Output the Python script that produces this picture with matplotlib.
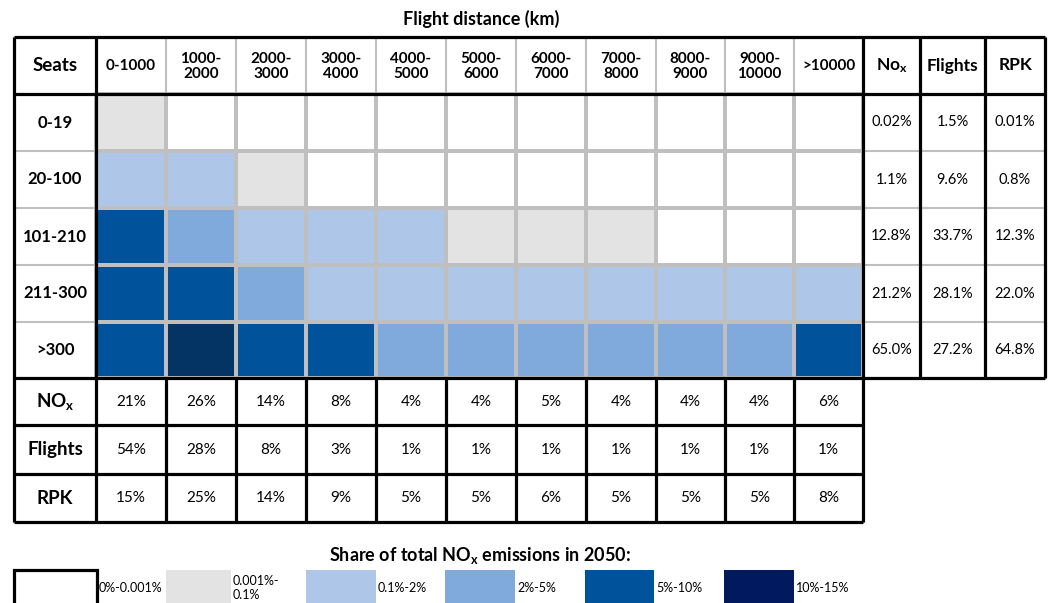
import numpy as np
import matplotlib
matplotlib.use('Agg')
import matplotlib.pyplot as plt
from matplotlib.colors import ListedColormap
from matplotlib.patches import Rectangle

plt.rcParams['font.family'] = ['Lato', 'DejaVu Sans']
plt.rcParams['mathtext.fontset'] = 'custom'
plt.rcParams['mathtext.rm'] = 'Lato'
plt.rcParams['mathtext.bf'] = 'Lato:bold'

# Data
distance_bins = ['0-1000', '1000-\n2000', '2000-\n3000', '3000-\n4000', '4000-\n5000', '5000-\n6000',
                 '6000-\n7000', '7000-\n8000', '8000-\n9000', '9000-\n10000', '>10000']
seat_bins = ['0-19', '20-100', '101-210', '211-300', '>300']
# NOx share class per cell: 0 <0.001%, 1 <0.1%, 2 <2%, 3 <5%, 4 <10%, 5 <15%
nox_class = np.array([
    [1, 0, 0, 0, 0, 0, 0, 0, 0, 0, 0],
    [2, 2, 1, 0, 0, 0, 0, 0, 0, 0, 0],
    [4, 3, 2, 2, 2, 1, 1, 1, 0, 0, 0],
    [4, 4, 3, 2, 2, 2, 2, 2, 2, 2, 2],
    [4, 5, 4, 4, 3, 3, 3, 3, 3, 3, 4],
])
row_nox = ['0.02%', '1.1%', '12.8%', '21.2%', '65.0%']
row_flights = ['1.5%', '9.6%', '33.7%', '28.1%', '27.2%']
row_rpk = ['0.01%', '0.8%', '12.3%', '22.0%', '64.8%']
col_nox = [21, 26, 14, 8, 4, 4, 5, 4, 4, 4, 6]
col_flights = [54, 28, 8, 3, 1, 1, 1, 1, 1, 1, 1]
col_rpk = [15, 25, 14, 9, 5, 5, 6, 5, 5, 5, 8]
legend_labels = ['0%-0.001%', '0.001%-\n0.1%', '0.1%-2%', '2%-5%', '5%-10%', '10%-15%']

cell_colors = ['#FFFFFF', '#E3E3E3', '#AEC6E7', '#7FAADB', '#00529B', '#033463']
legend_colors = ['#FFFFFF', '#E3E3E3', '#AEC6E7', '#7FAADB', '#00529B', '#011A5F']

# Layout (pixels)
x_left, x_seat = 14, 96
x_dist = np.array([96, 166, 236, 306, 376, 446, 516, 586, 656, 725, 794, 863])
x_right = np.array([863, 920, 985, 1045])
y_top, y_head = 37, 94
y_rows = np.array([94, 151, 208, 265, 322, 378])
y_bottom = np.array([378, 425, 474, 522])
gray = '#BFBFBF'
lw_b, lw_g = 2.3, 1.5

fig = plt.figure(figsize=(10.51, 6.03), dpi=100)
ax = fig.add_axes([0, 0, 1, 1])
ax.set_xlim(0, 1051)
ax.set_ylim(603, 0)
ax.axis('off')

# heatmap cells
ax.pcolormesh(x_dist, y_rows, nox_class, cmap=ListedColormap(cell_colors), vmin=-0.5, vmax=5.5,
              edgecolors=gray, linewidth=lw_g)

# gray lines
ax.vlines(x_dist[1:-1], y_top, y_head, color=gray, lw=lw_g)
ax.hlines(y_rows[1:-1], x_left, x_seat, color=gray, lw=lw_g)
ax.hlines(y_rows[1:-1], x_right[0], x_right[-1], color=gray, lw=lw_g)

# black lines
ax.hlines([y_top, y_head, y_rows[-1]], x_left, x_right[-1], color='black', lw=lw_b)
ax.hlines(y_bottom[1:], x_left, x_dist[-1], color='black', lw=lw_b)
ax.vlines([x_left, x_seat, x_dist[-1]], y_top, y_bottom[-1], color='black', lw=lw_b)
ax.vlines(x_right[1:], y_top, y_rows[-1], color='black', lw=lw_b)
ax.vlines(x_dist[1:-1], y_bottom[0], y_bottom[-1], color='black', lw=lw_b)

hfs, dfs = 13.5, 11
ax.text(481, 19, 'Flight distance (km)', ha='center', va='center', fontsize=13, fontweight='bold')
ax.text((x_left + x_seat) / 2, (y_top + y_head) / 2, 'Seats', ha='center', va='center',
        fontsize=hfs, fontweight='bold')
xc = (x_dist[:-1] + x_dist[1:]) / 2
for x, lab in zip(xc, distance_bins):
    ax.text(x, (y_top + y_head) / 2 + 1, lab, ha='center', va='center', fontsize=11,
            fontweight='bold', linespacing=1.15)
xr = (x_right[:-1] + x_right[1:]) / 2
for x, lab in zip(xr, [r'$\mathbf{No_x}$', 'Flights', 'RPK']):
    ax.text(x, (y_top + y_head) / 2, lab, ha='center', va='center', fontsize=12.5, fontweight='bold')

yc = (y_rows[:-1] + y_rows[1:]) / 2
for i, y in enumerate(yc):
    ax.text((x_left + x_seat) / 2, y, seat_bins[i], ha='center', va='center', fontsize=12,
            fontweight='bold')
    for x, v in zip(xr, [row_nox[i], row_flights[i], row_rpk[i]]):
        ax.text(x, y, v, ha='center', va='center', fontsize=10.5)

yb = (y_bottom[:-1] + y_bottom[1:]) / 2
for y, name, vals in zip(yb, [r'$\mathbf{NO_x}$', 'Flights', 'RPK'], [col_nox, col_flights, col_rpk]):
    ax.text((x_left + x_seat) / 2, y, name, ha='center', va='center', fontsize=hfs, fontweight='bold')
    for x, v in zip(xc, vals):
        ax.text(x, y, f'{v}%', ha='center', va='center', fontsize=dfs)

# legend
ax.text(480, 556, r'Share of total NO$_\mathbf{x}$ emissions in 2050:', ha='center', va='center',
        fontsize=13, fontweight='bold')
leg_x = [14, 166, 306, 445, 585, 724]
leg_w = [83, 65, 70, 70, 69, 70]
for x, w, c, lab in zip(leg_x, leg_w, legend_colors, legend_labels):
    ax.add_patch(Rectangle((x, 570), w, 40, facecolor=c,
                           edgecolor='black' if c == '#FFFFFF' else 'none', lw=lw_b, clip_on=True))
    ax.text(x + w + 2, 588, lab, ha='left', va='center', fontsize=9, linespacing=1.25)

fig.savefig('out.png', dpi=100)
